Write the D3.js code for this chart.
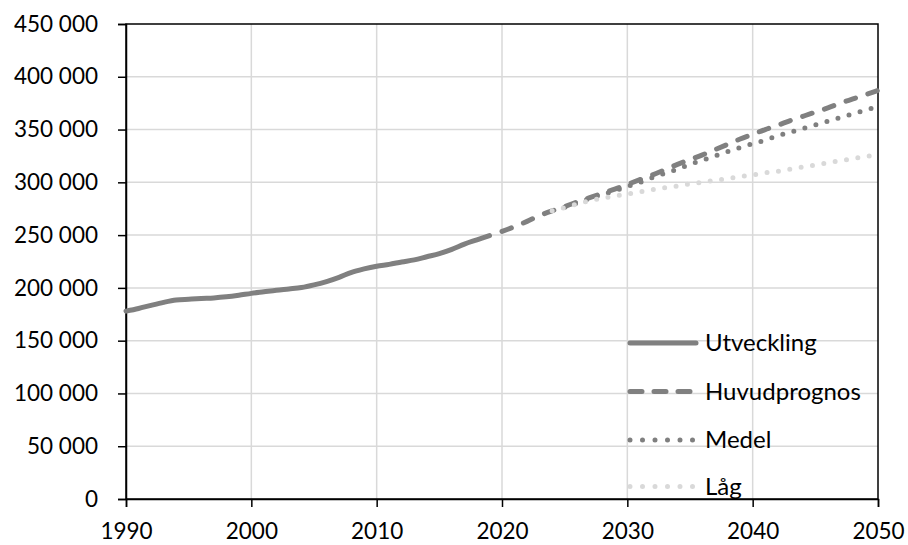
<!DOCTYPE html>
<html>
<head>
<meta charset="utf-8">
<script src="https://cdn.jsdelivr.net/npm/d3@7"></script>
<style>
  html, body { margin: 0; padding: 0; background: #fff; }
  svg { display: block; }
  text { font-family: Lato, "Open Sans", sans-serif; fill: #000; }
</style>
</head>
<body>
<svg id="chart" width="908" height="545"></svg>
<script>
// ---- data ----
const histYears = d3.range(1990, 2020);
const utveckling = [178.0, 180.5, 183.5, 186.3, 188.5, 189.3, 190.0, 190.5, 191.5, 193.0,
  194.8, 196.3, 197.8, 199.0, 200.3, 202.8, 206.0, 210.0, 214.8, 218.0,
  220.5, 222.3, 224.5, 226.5, 229.5, 232.5, 236.5, 241.5, 245.5, 249.5];

const huvudYears = d3.range(2020, 2051);
const huvudprognos = [253.5, 258.0, 263.0, 268.5, 273.0, 277.0, 281.5, 285.5, 289.5, 293.5,
  298.0, 302.5, 307.0, 312.0, 317.0, 321.5, 326.0, 331.0, 336.0, 341.0,
  345.5, 350.0, 354.0, 358.5, 362.5, 366.5, 370.5, 375.0, 379.0, 383.0, 387.0];

const medelYears = d3.range(2025, 2051);
const medel = [276.5, 280.5, 284.5, 288.5, 292.0, 296.0, 300.0, 304.5, 308.5, 312.5,
  317.0, 321.0, 325.0, 329.0, 333.0, 336.5, 340.0, 344.0, 347.5, 351.0,
  354.5, 358.0, 361.5, 365.0, 368.5, 372.0];

const lagYears = d3.range(2024, 2051);
const lag = [273.0, 276.0, 279.5, 282.5, 285.0, 287.0, 289.0, 291.0, 293.0, 295.0,
  296.5, 298.5, 300.0, 302.0, 303.5, 305.5, 307.0, 309.0, 310.5, 312.5,
  314.5, 316.5, 318.5, 320.5, 322.5, 324.5, 326.0];

const seriesNames = ["Utveckling", "Huvudprognos", "Medel", "Låg"];
const xTicks = [1990, 2000, 2010, 2020, 2030, 2040, 2050];
const yTicks = [0, 50000, 100000, 150000, 200000, 250000, 300000, 350000, 400000, 450000];

// ---- layout ----
const svg = d3.select("#chart");
const L = 126, R = 878, T = 24, B = 499;
const x = d3.scaleLinear().domain([1990, 2050]).range([L, R]);
const y = d3.scaleLinear().domain([0, 450000]).range([B, T]);

const loc = d3.formatLocale({decimal: ",", thousands: "\u00a0", grouping: [3], currency: ["", " kr"]});
const fmt = loc.format(",d");

// gridlines
svg.append("g").selectAll("line.h").data(yTicks.slice(1, -1)).join("line")
  .attr("x1", L).attr("x2", R).attr("y1", d => y(d)).attr("y2", d => y(d))
  .attr("stroke", "#d9d9d9").attr("stroke-width", 1.5);
svg.append("g").selectAll("line.v").data(xTicks.slice(1, -1)).join("line")
  .attr("y1", T).attr("y2", B).attr("x1", d => x(d)).attr("x2", d => x(d))
  .attr("stroke", "#d9d9d9").attr("stroke-width", 1.5);

// border
svg.append("rect").attr("x", L).attr("y", T).attr("width", R - L).attr("height", B - T)
  .attr("fill", "none").attr("stroke", "#000").attr("stroke-width", 1.5);

// axes
const yAxis = svg.append("g").attr("transform", `translate(${L},0)`)
  .call(d3.axisLeft(y).tickValues(yTicks).tickFormat(fmt).tickSize(8).tickPadding(20));
yAxis.select(".domain").attr("stroke", "#000").attr("stroke-width", 1.5);
yAxis.selectAll(".tick line").attr("stroke", "#000").attr("stroke-width", 1.5);
yAxis.selectAll("text").style("font-size", "22.5px").style("font-family", "Lato, sans-serif").attr("fill", "#000");

const xAxis = svg.append("g").attr("transform", `translate(0,${B})`)
  .call(d3.axisBottom(x).tickValues(xTicks).tickFormat(d3.format("d")).tickSize(8).tickPadding(16));
xAxis.select(".domain").attr("stroke", "#000").attr("stroke-width", 1.5);
xAxis.selectAll(".tick line").attr("stroke", "#000").attr("stroke-width", 1.5);
xAxis.selectAll("text").style("font-size", "22.5px").style("font-family", "Lato, sans-serif").attr("fill", "#000");

// lines
const styles = {
  "Utveckling":   {color: "#808080", dash: null},
  "Huvudprognos": {color: "#808080", dash: "10,13"},
  "Medel":        {color: "#7f7f7f", dash: "0,11.5"},
  "Låg":          {color: "#d9d9d9", dash: "0,11.5"}
};
const data = [
  {name: "Utveckling", years: histYears, vals: utveckling},
  {name: "Huvudprognos", years: huvudYears, vals: huvudprognos},
  {name: "Medel", years: medelYears, vals: medel},
  {name: "Låg", years: lagYears, vals: lag}
];
const line = d3.line().x(d => x(d[0])).y(d => y(d[1] * 1000)).curve(d3.curveMonotoneX);
data.forEach(s => {
  const st = styles[s.name];
  svg.append("path")
    .datum(s.years.map((yr, i) => [yr, s.vals[i]]))
    .attr("d", line)
    .attr("fill", "none")
    .attr("stroke", st.color)
    .attr("stroke-width", 5)
    .attr("stroke-linecap", "round")
    .attr("stroke-linejoin", "round")
    .attr("stroke-dasharray", st.dash);
});

// legend
const legY = [343, 391.5, 440, 486.5];
const leg = svg.append("g");
seriesNames.forEach((n, i) => {
  const st = styles[n];
  leg.append("line")
    .attr("x1", 630).attr("x2", 696).attr("y1", legY[i]).attr("y2", legY[i])
    .attr("stroke", st.color).attr("stroke-width", 5)
    .attr("stroke-linecap", "round")
    .attr("stroke-dasharray", n === "Huvudprognos" ? "12,12" : (n === "Utveckling" ? null : "0,12.5"));
  leg.append("text")
    .attr("x", 705).attr("y", legY[i]).attr("dy", "0.35em")
    .style("font-size", "24px")
    .text(n);
});
</script>
</body>
</html>
